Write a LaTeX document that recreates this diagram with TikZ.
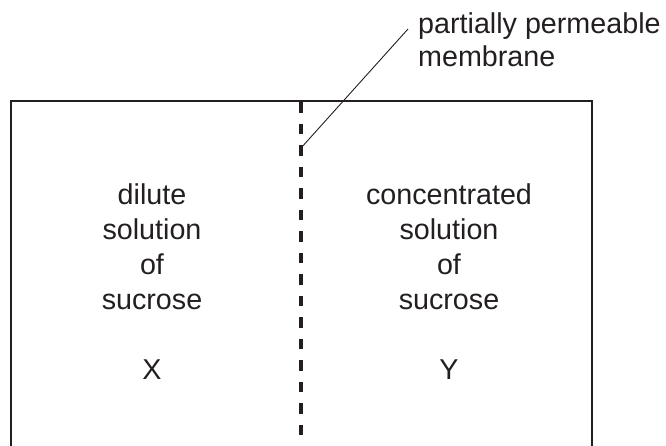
\documentclass[tikz,border=0pt]{standalone}
\usepackage{fontspec}
\setmainfont{Liberation Sans}
\definecolor{ink}{RGB}{35,31,32}
\begin{document}
\begin{tikzpicture}[x=1pt,y=-1pt,
  lbl/.style={inner sep=0pt,anchor=base,text=ink,font=\fontsize{28.7}{34}\selectfont},
  lblw/.style={lbl,anchor=base west},
  wall/.style={draw=ink,line width=2pt},
  membr/.style={draw=ink,line width=3.4pt,dash pattern=on 10.5pt off 11pt},
  leader/.style={draw=ink,line width=0.9pt}]
\useasboundingbox (0,0) rectangle (666,445);
% container
\coordinate (bl) at (11,446);
\coordinate (tl) at (11,101);
\coordinate (tr) at (592,101);
\coordinate (br) at (592,446);
\draw[wall] (bl) -- (tl) -- (tr) -- (br);
% membrane
\coordinate (mtop) at (301,102);
\coordinate (mbot) at (301,446);
\draw[membr] (mtop) -- (mbot);
% left text
\node[lbl] (l1) at (152,204) {dilute};
\node[lbl] (l2) at (152,239) {solution};
\node[lbl] (l3) at (152,274) {of};
\node[lbl] (l4) at (152,309) {sucrose};
\node[lbl] (X) at (152,379) {X};
% right text
\node[lbl] (r1) at (449,204) {concentrated};
\node[lbl] (r2) at (449,239) {solution};
\node[lbl] (r3) at (449,274) {of};
\node[lbl] (r4) at (449,309) {sucrose};
\node[lbl] (Y) at (449,379) {Y};
% membrane label
\node[lblw] (ml1) at (418,33) {partially permeable};
\node[lblw] (ml2) at (418,66) {membrane};
\coordinate (tip) at (301,148);
\coordinate (lend) at (408,29);
\draw[leader] (tip) -- (lend);
\end{tikzpicture}
\end{document}
